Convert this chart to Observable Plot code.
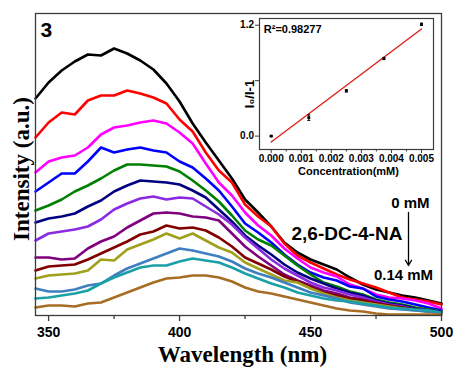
<!DOCTYPE html>
<html>
<head>
<meta charset="utf-8">
<script src="https://cdn.jsdelivr.net/npm/d3@7"></script>
<script src="https://cdn.jsdelivr.net/npm/@observablehq/plot@0.6"></script>
<style>
  body { margin: 0; background: #fff; }
  #wrap { position: relative; width: 460px; height: 367px; }
  #inset { position: absolute; left: 220px; top: 10px; }
</style>
</head>
<body>
<div id="wrap"><div id="main"></div><div id="inset"></div></div>
<script>
// Emission spectra, 345–500 nm every 5 nm, quencher added from 0 mM (s00) to 0.14 mM (s12)
const wavelengths = d3.range(345, 501, 5);
const s00 = [217,233,245,254,261,260,267,262,255,246,232,214,192,173,155,137,116,103,89,73,63,56,51,46,38,31,26,23,20,18,15,12];
const s01 = [178,193,203,201,215,220,220,225,222,218,212,196,184,163,145,133,111,99,89,72,60,53,47,41,36,32,28,23,18,16,14,11];
const s02 = [143,154,158,160,168,181,188,190,193,195,192,183,172,152,133,120,103,90,80,67,57,48,43,39,31,27,21,18,17,15,12,7];
const s03 = [124,133,142,142,154,168,163,166,168,165,163,154,148,137,125,109,92,83,73,61,51,43,38,35,29,27,19,16,14,11,8,5];
const s04 = [105,110,116,124,130,137,145,151,151,150,149,144,135,125,114,100,85,76,70,60,50,41,33,29,24,21,16,13,11,8,6,4];
const s05 = [93,97,99,102,109,115,124,130,135,134,133,131,125,118,106,94,80,70,61,51,43,37,32,27,23,20,15,12,10,7,5,4];
const s06 = [75,82,84,86,89,96,106,112,117,119,116,118,117,109,101,91,78,67,56,47,40,33,28,25,21,18,14,11,9,6,5,3];
const s07 = [58,58,56,57,67,74,79,88,95,102,103,102,99,98,95,82,69,59,50,41,35,30,25,22,18,16,13,10,8,6,4,3];
const s08 = [45,49,50,51,56,62,68,74,81,84,90,87,88,85,78,69,58,52,46,39,34,28,23,20,17,15,12,10,8,6,4,3];
const s09 = [37,40,41,42,45,56,55,66,71,76,82,77,82,75,68,63,53,47,41,35,33,27,22,18,15,13,11,9,7,5,4,3];
const s10 = [27,24,24,26,30,32,40,47,52,57,62,67,65,62,59,54,47,42,38,33,28,23,20,17,13,11,9,7,6,5,4,3];
const s11 = [17,18,20,22,25,32,38,43,48,50,50,54,57,55,53,48,42,37,32,28,23,20,17,15,14,12,10,8,7,6,5,3];
const s12 = [8,10,10,9,12,13,18,23,28,33,37,38,40,40,38,34,28,24,22,19,16,13,10,7,5,4,2,1,1,1,1,1];
const seriesColors = ["#000000","#ff0000","#ff00ff","#0000ff","#008000","#000080","#8a2be2","#800080","#800000","#a0a01e","#3f7fbf","#1ba0a8","#a86d24"];

const xMajor = [350, 400, 450, 500];
const xMinor = [375, 425, 475];

// Stern–Volmer inset
const conc = [0, 0.00125, 0.0025, 0.00375, 0.005];
const ratio = [0, 0.20, 0.49, 0.84, 1.21];
const ratioErr = [0.004, 0.03, 0.012, 0.012, 0.012];
const concTicks = [0, 0.001, 0.002, 0.003, 0.004, 0.005];
const concMinor = [0.0005, 0.0015, 0.0025, 0.0035, 0.0045];
const ratioTicks = [0, 0.6, 1.2];
const ratioTickLabels = ["0.0", "", "1.2"];

// Annotation positions, in wavelength / intensity units
const noteName = [{wavelength: 463.9, intensity: 82, label: "2,6-DC-4-NA"}];
const noteConc = [
  {wavelength: 488.1, intensity: 112, label: "0 mM"},
  {wavelength: 485.5, intensity: 40, label: "0.14 mM"}
];
const noteArrow = [{wavelength: 487.4, from: 103, to: 50}];

const spectra = [s00,s01,s02,s03,s04,s05,s06,s07,s08,s09,s10,s11,s12];
const rows = spectra.flatMap((vals, k) => vals.map((v, i) => ({wavelength: wavelengths[i], intensity: v, series: k})));

const sans = "'Liberation Sans', Arial, sans-serif";
const serif = "'Liberation Serif', 'Times New Roman', serif";
const axisGray = "#3c3c3c";

const main = Plot.plot({
  width: 460,
  height: 367,
  marginLeft: 35,
  marginRight: 19,
  marginTop: 13,
  marginBottom: 52,
  style: {fontFamily: sans, fontWeight: "bold", fontSize: "14px", color: "#000", background: "#fff"},
  x: {domain: [345, 500]},
  y: {domain: [0, 302], axis: null},
  color: {type: "ordinal", domain: d3.range(spectra.length), range: seriesColors},
  marks: [
    Plot.line(rows, {x: "wavelength", y: "intensity", z: "series", stroke: "series", strokeWidth: 2.6, strokeLinejoin: "round", strokeLinecap: "round"}),
    Plot.frame({stroke: axisGray, strokeWidth: 1.3}),
    Plot.axisX({ticks: xMajor, tickSize: 6, tickPadding: 6, tickFormat: d => String(d), label: null, stroke: axisGray, strokeWidth: 1.3, fontSize: 14, fontWeight: "bold", fontFamily: sans}),
    Plot.axisX({ticks: xMinor, tickSize: 4, tickFormat: () => "", label: null, stroke: axisGray, strokeWidth: 1.3}),
    Plot.text(["Wavelength (nm)"], {text: d => d, frameAnchor: "bottom", lineAnchor: "middle", textAnchor: "middle", dx: 4, dy: 39.5, fontFamily: serif, fontSize: 23, fontWeight: "bold"}),
    Plot.text(["Intensity (a.u.)"], {text: d => d, frameAnchor: "left", lineAnchor: "middle", textAnchor: "middle", rotate: -90, dx: -13.5, dy: 4.5, fontFamily: serif, fontSize: 23, fontWeight: "bold"}),
    Plot.text(["3"], {text: d => d, frameAnchor: "top-left", lineAnchor: "middle", textAnchor: "start", dx: 5, dy: 16.5, fontSize: 21, fontWeight: "bold", fontFamily: sans}),
    Plot.text(noteName, {x: "wavelength", y: "intensity", text: "label", fontSize: 19, fontWeight: "bold", fontFamily: sans}),
    Plot.text(noteConc, {x: "wavelength", y: "intensity", text: "label", fontSize: 15, fontWeight: "bold", fontFamily: sans}),
    Plot.arrow(noteArrow, {x1: "wavelength", y1: "from", x2: "wavelength", y2: "to", stroke: "#000", strokeWidth: 1.3, headLength: 7})
  ]
});
document.getElementById("main").append(main);

const points = conc.map((c, i) => ({c, r: ratio[i], e: ratioErr[i]}));

const inset = Plot.plot({
  width: 225,
  height: 172,
  marginLeft: 39,
  marginRight: 12,
  marginTop: 8,
  marginBottom: 33,
  style: {fontFamily: sans, fontWeight: "bold", fontSize: "10px", color: "#000", background: "transparent"},
  x: {domain: [-0.00039, 0.0054]},
  y: {domain: [-0.145, 1.273]},
  marks: [
    Plot.frame({stroke: axisGray, strokeWidth: 1.2}),
    Plot.axisX({ticks: concTicks, tickSize: 4, tickPadding: 1, tickFormat: d3.format(".3f"), label: null, stroke: axisGray, fontSize: 10, fontWeight: "bold", fontFamily: sans}),
    Plot.axisX({ticks: concMinor, tickSize: 2.5, tickFormat: () => "", label: null, stroke: axisGray}),
    Plot.axisY({ticks: ratioTicks, tickSize: 4, tickPadding: 1.5, tickFormat: (d, i) => ratioTickLabels[i], label: null, stroke: axisGray, fontSize: 10, fontWeight: "bold", fontFamily: sans}),
    Plot.linearRegressionY(points, {x: "c", y: "r", stroke: "#e0201c", strokeWidth: 1.4, ci: 0}),
    Plot.ruleX(points, {x: "c", y1: d => d.r - d.e, y2: d => d.r + d.e, stroke: "#000", strokeWidth: 1}),
    Plot.link(points, {x1: d => d.c - 0.00005, x2: d => d.c + 0.00005, y1: d => d.r - d.e, y2: d => d.r - d.e, stroke: "#000", strokeWidth: 1}),
    Plot.link(points, {x1: d => d.c - 0.00005, x2: d => d.c + 0.00005, y1: d => d.r + d.e, y2: d => d.r + d.e, stroke: "#000", strokeWidth: 1}),
    Plot.dot(points, {x: "c", y: "r", symbol: "square", r: 1.6, fill: "#000"}),
    Plot.text(["R²=0.98277"], {text: d => d, frameAnchor: "top-left", lineAnchor: "middle", textAnchor: "start", dx: 4.3, dy: 11.3, fontSize: 11, fontWeight: "bold", fontFamily: sans}),
    Plot.text(["I₀/I-1"], {text: d => d, frameAnchor: "left", lineAnchor: "middle", textAnchor: "middle", rotate: -90, dx: -10, dy: 10, fontSize: 13, fontWeight: "bold", fontFamily: sans}),
    Plot.text(["Concentration(mM)"], {text: d => d, frameAnchor: "bottom", lineAnchor: "middle", textAnchor: "middle", dx: 2, dy: 21.5, fontSize: 11, fontWeight: "bold", fontFamily: sans})
  ]
});
document.getElementById("inset").append(inset);
</script>
</body>
</html>
